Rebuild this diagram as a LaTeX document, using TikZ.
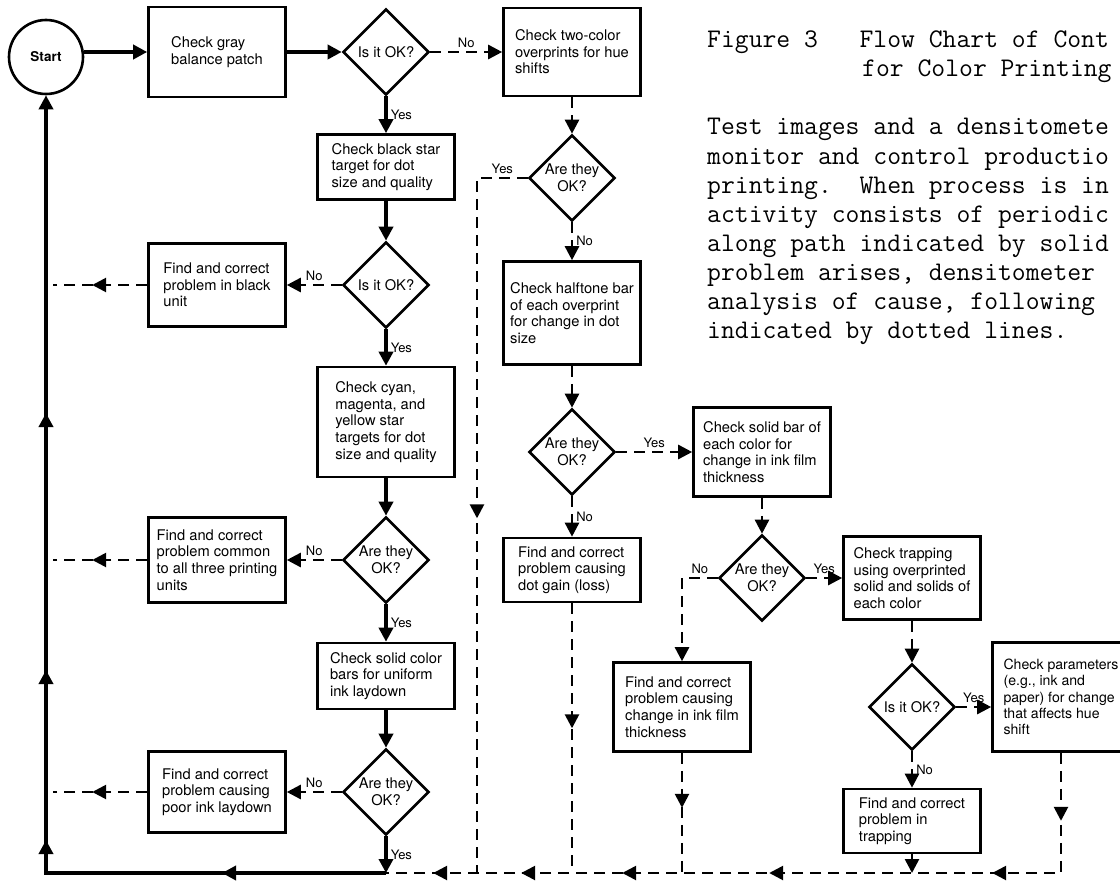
\documentclass[tikz,border=0pt]{standalone}
\usepackage{fontspec}
\setmainfont{TeX Gyre Heros}
\usetikzlibrary{shapes.geometric, arrows.meta, decorations.markings}
\tikzset{
  >={Triangle[length=14pt, width=14pt]},
  flowbox/.style = {draw, rectangle, line width=2.6pt, align=left, minimum width=137pt, inner sep=2pt, font=\fontsize{14.7}{16.6}\selectfont},
  decision/.style = {draw, diamond, aspect=1, line width=2.6pt, minimum width=86pt, minimum height=86pt, inner sep=0pt, align=center, font=\fontsize{14.7}{16.6}\selectfont},
  solidline/.style = {draw, line width=3.5pt},
  solidflow/.style = {solidline, ->},
  dashline/.style = {draw, line width=2.6pt, dash pattern=on 11pt off 7pt},
  dashflow/.style = {dashline, ->},
  answer/.style = {inner sep=3pt, font=\fontsize{13}{14}\selectfont},
  arrowat/.style = {postaction={decorate, decoration={markings, mark=at position #1 with {\arrow{>}}}}},
  noteline/.style = {anchor=base west, inner sep=0pt, font=\ttfamily\frenchspacing\fontsize{26.9}{29}\selectfont}
}
\begin{document}
\begin{tikzpicture}[x=1pt, y=-1pt]
\useasboundingbox (0, 0) rectangle (1120, 883);
\clip (0, 0) rectangle (1120, 883);
\node[draw, circle, line width=2.6pt, minimum size=74pt, inner sep=0pt, font=\bfseries\fontsize{13.5}{15}\selectfont] (start) at (46, 57) {Start};
\begin{scope}[every node/.style = {flowbox}]
\node[minimum height=90pt] (gray) at (217, 52) {Check gray\\balance patch};
\node[minimum height=88pt] (twocolor) at (572, 52) {Check two-color\\overprints for hue\\shifts};
\node[minimum height=65pt] (blackstar) at (386, 167) {Check black star\\target for dot\\size and quality};
\node[minimum height=83pt] (blackfix) at (217, 285) {Find and correct\\problem in black\\unit};
\node[minimum height=103pt] (halftone) at (572, 313) {Check halftone bar\\of each overprint\\for change in dot\\size};
\node[minimum height=110pt] (cyan) at (386, 422) {Check cyan,\\magenta, and\\yellow star\\targets for dot\\size and quality};
\node[minimum height=89pt] (solidbar) at (762, 452) {Check solid bar of\\each color for\\change in ink film\\thickness};
\node[minimum height=85pt] (commonfix) at (217, 560) {Find and correct\\problem common\\to all three printing\\units};
\node[minimum height=64pt] (dotgain) at (572, 570) {Find and correct\\problem causing\\dot gain (loss)};
\node[minimum height=83pt] (trapping) at (912, 578) {Check trapping\\using overprinted\\solid and solids of\\each color};
\node[minimum height=66pt] (solidcolor) at (386, 676) {Check solid color\\bars for uniform\\ink laydown};
\node[minimum height=109pt, font=\fontsize{14.1}{16.4}\selectfont] (params) at (1061, 697) {Check parameters\\(e.g., ink and\\paper) for change\\that affects hue\\shift};
\node[minimum height=89pt] (filmfix) at (682, 707) {Find and correct\\problem causing\\change in ink film\\thickness};
\node[minimum height=81pt] (laydownfix) at (217, 792) {Find and correct\\problem causing\\poor ink laydown};
\node[minimum height=64pt] (trapfix) at (912, 821) {Find and correct\\problem in\\trapping};
\end{scope}
\begin{scope}[every node/.style = {decision}]
\node (q1) at (386, 52) {Is it OK?};
\node (q2) at (386, 285) {Is it OK?};
\node (q3) at (386, 560) {Are they\\OK?};
\node (q4) at (386, 792) {Are they\\OK?};
\node (q5) at (572, 178) {Are they\\OK?};
\node (q6) at (572, 452) {Are they\\OK?};
\node (q7) at (762, 578) {Are they\\OK?};
\node (q8) at (912, 707) {Is it OK?};
\end{scope}
\coordinate (loopcorner) at (46, 873);
\coordinate (yesjoin) at (386, 873);
\coordinate (blackexit) at (53, 285);
\coordinate (commonexit) at (53, 560);
\coordinate (laydownexit) at (53, 792);
\coordinate (hueyes) at (477, 873);
\coordinate (gainjoin) at (572, 873);
\coordinate (filmjoin) at (682, 873);
\coordinate (trapjoin) at (912, 873);
\begin{scope}[every edge/.style = {draw, solidflow}]
\path (start.east |- gray.west) edge (gray);
\path (gray) edge (q1);
\path (q1) edge node[answer, right] {Yes} (blackstar);
\path (blackstar) edge (q2);
\path (q2) edge node[answer, right] {Yes} (cyan);
\path (cyan) edge (q3);
\path (q3) edge node[answer, right] {Yes} (solidcolor);
\path (solidcolor) edge (q4);
\path (q4) edge node[answer, right] {Yes} (yesjoin);
\end{scope}
\draw[solidflow, arrowat=164pt, arrowat=373pt, arrowat=543pt, arrowat=800pt] (yesjoin) -- (loopcorner) -- (start);
\begin{scope}[every edge/.style = {draw, dashflow}]
\path (q1) edge node[answer, above] {No} (twocolor);
\path (q2) edge node[answer, above] {No} (blackfix);
\path (q3) edge node[answer, above] {No} (commonfix);
\path (q4) edge node[answer, above] {No} (laydownfix);
\path (twocolor) edge (q5);
\path (q5) edge node[answer, right] {No} (halftone);
\path (halftone) edge (q6);
\path (q6) edge node[answer, above] {Yes} (solidbar);
\path (q6) edge node[answer, right] {No} (dotgain);
\path (solidbar) edge (q7);
\path (q7) edge node[answer, above] {Yes} (trapping);
\path (trapping) edge (q8);
\path (q8.east) edge node[answer, above] {Yes} (q8.east -| params.west);
\path (q8) edge node[answer, right] {No} (trapfix);
\path (trapfix) edge (trapjoin);
\end{scope}
\draw[dashline, arrowat=55pt] (blackfix) -- (blackexit);
\draw[dashline, arrowat=55pt] (commonfix) -- (commonexit);
\draw[dashline, arrowat=55pt] (laydownfix) -- (laydownexit);
\draw[dashline, arrowat=391pt] (q5.west) -| node[answer, above, pos=0.25] {Yes} (hueyes);
\draw[dashflow] (q7.west) -| node[answer, above, pos=0.25] {No} (filmfix);
\draw[dashline, arrowat=125pt] (dotgain) -- (gainjoin);
\draw[dashline, arrowat=55pt] (filmfix) -- (filmjoin);
\draw[dashline, arrowat=68pt, arrowat=189pt, arrowat=412pt, arrowat=559pt, arrowat=660pt, arrowat=748pt] (params) |- (yesjoin);
\node[noteline] (note1) at (707, 48) {Figure 3\ \ \ Flow Chart of Cont};
\node[noteline] (note2) at (862, 77) {for Color Printing};
\node[noteline] (note3) at (707, 135) {Test images and a densitomete};
\node[noteline] (note4) at (707, 164) {monitor and control productio};
\node[noteline] (note5) at (707, 193) {printing.\ \ When process is in};
\node[noteline] (note6) at (707, 222) {activity consists of periodic};
\node[noteline] (note7) at (707, 251) {along path indicated by solid};
\node[noteline] (note8) at (707, 280) {problem arises, densitometer};
\node[noteline] (note9) at (707, 309) {analysis of cause, following};
\node[noteline] (note10) at (707, 338) {indicated by dotted lines.};
\end{tikzpicture}
\end{document}
